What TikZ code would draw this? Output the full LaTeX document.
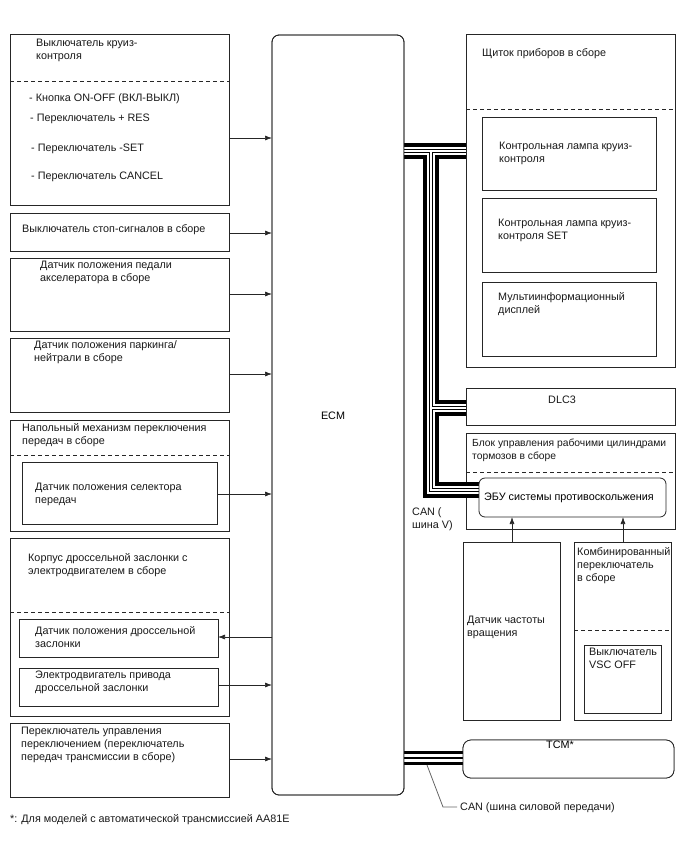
\documentclass[tikz,border=0pt]{standalone}
\usepackage{fontspec}
\setmainfont{Liberation Sans}
\usetikzlibrary{arrows.meta}
\begin{document}
\begin{tikzpicture}[x=1pt,y=-1pt,
  font=\fontsize{10.8}{13}\selectfont,
  bx/.style={draw=black!85, line width=0.8pt, anchor=north west, inner sep=0pt, outer sep=0pt},
  rbx/.style={bx, rounded corners=#1},
  lbl/.style={anchor=north west, yshift=9.1pt, inner sep=0pt, align=left, text=black!90, execute at begin node=\strut},
  dsh/.style={draw=black!85, line width=0.8pt, dash pattern=on 4pt off 3pt},
  arr/.style={draw=black!85, line width=0.7pt, -{Latex[length=7pt,width=5pt]}},
]
\useasboundingbox (0,0) rectangle (688,852);
\fill[white] (0,0) rectangle (688,852);

% ---------- named anchors for buses
\coordinate (vjoin) at (431,151);
\coordinate (vdlc) at (431,408);
\coordinate (vturn) at (431,490);
\coordinate (ld) at (427,765);
\coordinate (ldk) at (443,807);
\coordinate (lde) at (457,807);

% ---------- ECM and right-side boxes (needed for bus ends)
\node[rbx=7pt, minimum width=132pt, minimum height=760pt] (ecm) at (272,35) {};
\node[bx, minimum width=209pt, minimum height=333pt] (cluster) at (466,34) {};
\node[bx, minimum width=209pt, minimum height=37pt] (dlc) at (466,388) {};
\node[bx, minimum width=209pt, minimum height=96pt] (brake) at (466,433) {};
\node[rbx=8pt, minimum width=211pt, minimum height=38pt] (tcm) at (463,740) {};

% ---------- CAN V bus
\foreach \w/\c in {16/black,8/white,4.5/black,2.5/white}{
  \draw[line width=\w pt, draw=\c, line join=miter, line cap=butt]
    (ecm.east |- vjoin) -- (cluster.west |- vjoin)
    (vjoin) -- (vturn) -- (479,490)
    (vdlc) -- (dlc.west |- vdlc);
}
% ---------- CAN powertrain bus
\foreach \w/\c in {14/black,8/white,1.2/black}{
  \draw[line width=\w pt, draw=\c, line cap=butt]
    (ecm.east |- 0,758) -- (tcm.west |- 0,758);
}
\draw[draw=black!60, line width=0.8pt] (ld) -- (ldk) -- (lde);

% redraw borders over bus ends
\node[rbx=7pt, minimum width=132pt, minimum height=760pt] (ecmb) at (272,35) {};
\node[bx, minimum width=209pt, minimum height=333pt] (clusterb) at (466,34) {};
\node[bx, minimum width=209pt, minimum height=37pt] (dlcb) at (466,388) {};
\node[rbx=8pt, fill=white, minimum width=211pt, minimum height=38pt] (tcmb) at (463,740) {};
\node[rbx=6pt, fill=white, minimum width=187pt, minimum height=39pt] (ecu) at (479,478) {};

% ---------- left boxes
\node[bx, minimum width=219pt, minimum height=171pt] (cruise) at (10,34) {};
\node[bx, minimum width=219pt, minimum height=38pt] (stop) at (10,213) {};
\node[bx, minimum width=219pt, minimum height=73pt] (accel) at (10,258) {};
\node[bx, minimum width=219pt, minimum height=74pt] (pn) at (10,338) {};
\node[bx, minimum width=219pt, minimum height=111pt] (floor) at (10,420) {};
\node[bx, minimum width=195pt, minimum height=62pt] (sel) at (22,462) {};
\node[bx, minimum width=219pt, minimum height=178pt] (thr) at (10,538) {};
\node[bx, minimum width=199pt, minimum height=38pt] (tps) at (19,619) {};
\node[bx, minimum width=199pt, minimum height=38pt] (mot) at (19,668) {};
\node[bx, minimum width=219pt, minimum height=74pt] (shift) at (10,723) {};

% ---------- right inner boxes
\node[bx, minimum width=174pt, minimum height=73pt] (lampa) at (482,117) {};
\node[bx, minimum width=174pt, minimum height=74pt] (lampb) at (482,198) {};
\node[bx, minimum width=174pt, minimum height=74pt] (mid) at (482,282) {};
\node[bx, minimum width=97pt, minimum height=178pt] (speed) at (463,542) {};
\node[bx, minimum width=97pt, minimum height=178pt] (combo) at (574,542) {};
\node[bx, minimum width=77pt, minimum height=68pt] (vsc) at (584,645) {};

% ---------- dashed separators
\draw[dsh] (cruise.west |- 0,81) -- (cruise.east |- 0,81);
\draw[dsh] (floor.west |- 0,455) -- (floor.east |- 0,455);
\draw[dsh] (thr.west |- 0,612) -- (thr.east |- 0,612);
\draw[dsh] (cluster.west |- 0,109) -- (cluster.east |- 0,109);
\draw[dsh] (brake.west |- 0,472) -- (brake.east |- 0,472);
\draw[dsh] (combo.west |- 0,630) -- (combo.east |- 0,630);

% ---------- arrows
\draw[arr] (cruise.east |- 0,138) -- (ecm.west |- 0,138);
\draw[arr] (stop.east |- 0,233) -- (ecm.west |- 0,233);
\draw[arr] (accel.east |- 0,294) -- (ecm.west |- 0,294);
\draw[arr] (pn.east |- 0,374) -- (ecm.west |- 0,374);
\draw[arr] (sel.east |- 0,494) -- (ecm.west |- 0,494);
\draw[arr] (ecm.west |- 0,637) -- (tps.east |- 0,637);
\draw[arr] (mot.east |- 0,685) -- (ecm.west |- 0,685);
\draw[arr] (shift.east |- 0,759) -- (ecm.west |- 0,759);
\draw[arr] (speed.north -| 512,0) -- (ecu.south -| 512,0);
\draw[arr] (combo.north -| 623,0) -- (ecu.south -| 623,0);

% ---------- texts
\node[lbl] (t1) at (36,48) {Выключатель круиз-\\контроля};
\node[lbl] (t2) at (29,101) {- Кнопка ON-OFF (ВКЛ-ВЫКЛ)};
\node[lbl] (t3) at (30,121) {- Переключатель + RES};
\node[lbl] (t4) at (31,151) {- Переключатель -SET};
\node[lbl] (t5) at (31,179) {- Переключатель CANCEL};
\node[lbl] (t6) at (22,232) {Выключатель стоп-сигналов в сборе};
\node[lbl] (t7) at (40,270) {Датчик положения педали\\акселератора в сборе};
\node[lbl] (t8) at (34,350) {Датчик положения паркинга/\\нейтрали в сборе};
\node[lbl] (t9) at (22,432) {Напольный механизм переключения\\передач в сборе};
\node[lbl] (t10) at (35,492) {Датчик положения селектора\\передач};
\node[lbl] (t11) at (28,562) {Корпус дроссельной заслонки с\\электродвигателем в сборе};
\node[lbl] (t12) at (35,635) {Датчик положения дроссельной\\заслонки};
\node[lbl] (t13) at (35,680) {Электродвигатель привода\\дроссельной заслонки};
\node[lbl] (t14) at (21,736) {Переключатель управления\\переключением (переключатель\\передач трансмиссии в сборе)};
\node[lbl] (t15) at (10,822) {*: Для моделей с автоматической трансмиссией AA81E};
\node[inner sep=0pt] (ecmt) at (333,416) {ECM};
\node[lbl] (t16) at (482,56) {Щиток приборов в сборе};
\node[lbl] (t17) at (499,151) {Контрольная лампа круиз-\\контроля};
\node[lbl] (t18) at (498,228) {Контрольная лампа круиз-\\контроля SET};
\node[lbl] (t19) at (498,301) {Мультиинформационный\\дисплей};
\node[lbl] (t20) at (548,403) {DLC3};
\node[lbl, font=\fontsize{10.3}{13}\selectfont] (t21) at (472,448) {Блок управления рабочими цилиндрами\\тормозов в сборе};
\node[anchor=base, inner sep=0pt] (t22) at (569,500) {ЭБУ системы противоскольжения};
\node[lbl] (t23) at (412,517) {CAN (\\шина V)};
\node[lbl] (t24) at (467,625) {Датчик частоты\\вращения};
\node[lbl] (t25) at (577,556) {Комбинированный\\переключатель\\в сборе};
\node[lbl] (t26) at (589,657) {Выключатель\\VSC OFF};
\node[anchor=base, inner sep=0pt] (t27) at (560,748) {TCM*};
\node[lbl] (t28) at (460,810) {CAN (шина силовой передачи)};
\end{tikzpicture}
\end{document}
